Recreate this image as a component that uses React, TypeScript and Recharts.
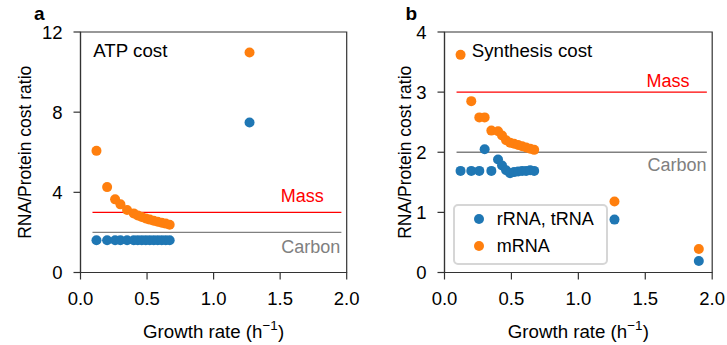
import React from 'react';
import { ScatterChart, Scatter, XAxis, YAxis, ReferenceLine, ReferenceArea } from 'recharts';

const growthRates = [0.12, 0.2, 0.26, 0.3, 0.35, 0.4, 0.43, 0.46, 0.49, 0.52, 0.55, 0.58, 0.61, 0.64, 0.67, 1.27, 1.9];
const atpRRNA: (number | null)[] = [1.61, 1.61, 1.61, 1.61, 1.61, 1.61, 1.61, 1.61, 1.61, 1.61, 1.61, 1.61, 1.61, 1.61, 1.61, 7.48, null];
const atpMRNA: (number | null)[] = [6.07, 4.26, 3.65, 3.4, 3.12, 2.95, 2.85, 2.77, 2.7, 2.64, 2.58, 2.53, 2.48, 2.44, 2.38, 10.98, null];
const synRRNA: (number | null)[] = [1.69, 1.69, 1.69, 2.05, 1.69, 1.88, 1.78, 1.7, 1.65, 1.67, 1.68, 1.69, 1.69, 1.7, 1.69, 0.88, 0.19];
const synMRNA: (number | null)[] = [3.62, 2.85, 2.58, 2.58, 2.36, 2.35, 2.28, 2.2, 2.16, 2.14, 2.12, 2.1, 2.08, 2.06, 2.04, 1.18, 0.39];

const xTicks = [0, 0.5, 1, 1.5, 2];
const atpTicks = [0, 4, 8, 12];
const synTicks = [0, 1, 2, 3, 4];
const seriesNames = ['rRNA, tRNA', 'mRNA'];
const massValue = 3;
const carbonValue = 2;
const lineStart = 0.09;
const lineEnd = 1.96;

const BLUE = '#1f77b4';
const ORANGE = '#ff7f0e';
const AXIS = '#333333';
const FONT = '"Liberation Sans", Arial, sans-serif';
const TICK_FS = 18.5;
const LABEL_FS = 18;

const toPoints = (ys: (number | null)[]) =>
  growthRates.map((x, i) => ({ x, y: ys[i] })).filter((p) => p.y !== null);

const dot = (color: string) => (props: any) => (
  <circle cx={props.cx} cy={props.cy} r={5} fill={color} />
);

const XTitle = (props: any) => {
  const vb = props.viewBox || {};
  const cx = vb.x + vb.width / 2;
  return (
    <text x={cx} y={vb.y + 65.5} textAnchor="middle" fontSize={18.7} fill="#000" fontFamily={FONT}>
      Growth rate (h
      <tspan fontSize={13.5} dy={-8}>−1</tspan>
      <tspan dy={8}>)</tspan>
    </text>
  );
};

const lineLabel = (text: string, color: string, dxEnd: number, dyCenter: number) => (props: any) => {
  const vb = props.viewBox || {};
  return (
    <text
      x={vb.x + vb.width - dxEnd}
      y={vb.y + dyCenter + 6.4}
      textAnchor="end"
      fontSize={LABEL_FS}
      fill={color}
      fontFamily={FONT}
    >
      {text}
    </text>
  );
};

type PanelProps = {
  rrna: (number | null)[];
  mrna: (number | null)[];
  yTicks: number[];
  yMax: number;
  width: number;
  rightMargin: number;
  yLabelDx: number;
  massDx: number;
  massDy: number;
  carbonDx: number;
  carbonDy: number;
};

const Panel = (p: PanelProps) => (
  <ScatterChart
    width={p.width}
    height={345}
    margin={{ top: 32, right: p.rightMargin, left: 0, bottom: 0 }}
    style={{ fontFamily: FONT }}
  >
    <XAxis
      type="number"
      dataKey="x"
      domain={[0, 2]}
      ticks={xTicks}
      tickFormatter={(v: number) => v.toFixed(1)}
      allowDataOverflow
      height={72.5}
      stroke={AXIS}
      strokeWidth={1.2}
      tickSize={7}
      tickMargin={12.5}
      tick={{ fill: '#000', fontSize: TICK_FS }}
      tickLine={{ stroke: AXIS, strokeWidth: 1.2 }}
      label={<XTitle />}
    />
    <YAxis
      type="number"
      dataKey="y"
      domain={[0, p.yMax]}
      ticks={p.yTicks}
      allowDataOverflow
      width={80.5}
      stroke={AXIS}
      strokeWidth={1.2}
      tickSize={7}
      tickMargin={11}
      tick={{ fill: '#000', fontSize: TICK_FS }}
      tickLine={{ stroke: AXIS, strokeWidth: 1.2 }}
      label={{
        value: 'RNA/Protein cost ratio',
        angle: -90,
        position: 'center',
        dx: p.yLabelDx,
        fontSize: 17.5,
        fill: '#000',
      }}
    />
    <ReferenceArea x1={0} x2={2} y1={0} y2={p.yMax} fill="none" stroke={AXIS} strokeWidth={1.2} fillOpacity={0} />
    <ReferenceLine
      segment={[{ x: lineStart, y: carbonValue }, { x: lineEnd, y: carbonValue }]}
      stroke="#808080"
      strokeWidth={1.3}
      label={lineLabel('Carbon', '#808080', p.carbonDx, p.carbonDy)}
    />
    <ReferenceLine
      segment={[{ x: lineStart, y: massValue }, { x: lineEnd, y: massValue }]}
      stroke="#ff0000"
      strokeWidth={1.3}
      label={lineLabel('Mass', '#ff0000', p.massDx, p.massDy)}
    />
    <Scatter name={seriesNames[0]} data={toPoints(p.rrna)} fill={BLUE} shape={dot(BLUE)} isAnimationActive={false} />
    <Scatter name={seriesNames[1]} data={toPoints(p.mrna)} fill={ORANGE} shape={dot(ORANGE)} isAnimationActive={false} />
  </ScatterChart>
);

export default function App() {
  return (
    <div
      style={{
        position: 'absolute',
        left: 0,
        top: 0,
        width: 727,
        height: 345,
        background: '#fff',
        fontFamily: FONT,
      }}
    >
      <div style={{ position: 'absolute', left: 0, top: 0 }}>
        <Panel
          rrna={atpRRNA}
          mrna={atpMRNA}
          yTicks={atpTicks}
          yMax={12}
          width={360}
          rightMargin={13.3}
          yLabelDx={-15}
          massDx={17.7}
          massDy={-16.6}
          carbonDx={1}
          carbonDy={14.4}
        />
      </div>
      <div style={{ position: 'absolute', left: 363.5, top: 0 }}>
        <Panel
          rrna={synRRNA}
          mrna={synMRNA}
          yTicks={synTicks}
          yMax={4}
          width={363.5}
          rightMargin={15.3}
          yLabelDx={1}
          massDx={17.3}
          massDy={-11.7}
          carbonDx={0.3}
          carbonDy={12.7}
        />
      </div>
      <svg
        width={727}
        height={345}
        style={{ position: 'absolute', left: 0, top: 0, pointerEvents: 'none' }}
        fontFamily={FONT}
      >
        <text x={34} y={20} fontSize={19} fontWeight="bold" fill="#000">a</text>
        <text x={405.5} y={20} fontSize={19} fontWeight="bold" fill="#000">b</text>
        <text x={93.3} y={56.7} fontSize={18.7} fill="#000">ATP cost</text>
        <text x={471.7} y={56.7} fontSize={18.7} fill="#000">Synthesis cost</text>
      </svg>
      <div
        style={{
          position: 'absolute',
          left: 452.7,
          top: 204.3,
          width: 155.6,
          height: 60.7,
          boxSizing: 'border-box',
          border: '2px solid #d6d6d6',
          borderRadius: 5,
          background: 'rgba(255,255,255,0.85)',
        }}
      >
        {seriesNames.map((name, i) => (
          <div
            key={name}
            style={{
              position: 'absolute',
              left: 0,
              top: 0.7 + i * 27,
              height: 24,
              display: 'flex',
              alignItems: 'center',
              whiteSpace: 'nowrap',
            }}
          >
            <span
              style={{
                display: 'inline-block',
                width: 10,
                height: 10,
                borderRadius: 5,
                background: i === 0 ? BLUE : ORANGE,
                marginLeft: 19.6,
              }}
            />
            <span style={{ marginLeft: 12.4, fontSize: 18, color: '#000', lineHeight: '24px' }}>{name}</span>
          </div>
        ))}
      </div>
    </div>
  );
}
